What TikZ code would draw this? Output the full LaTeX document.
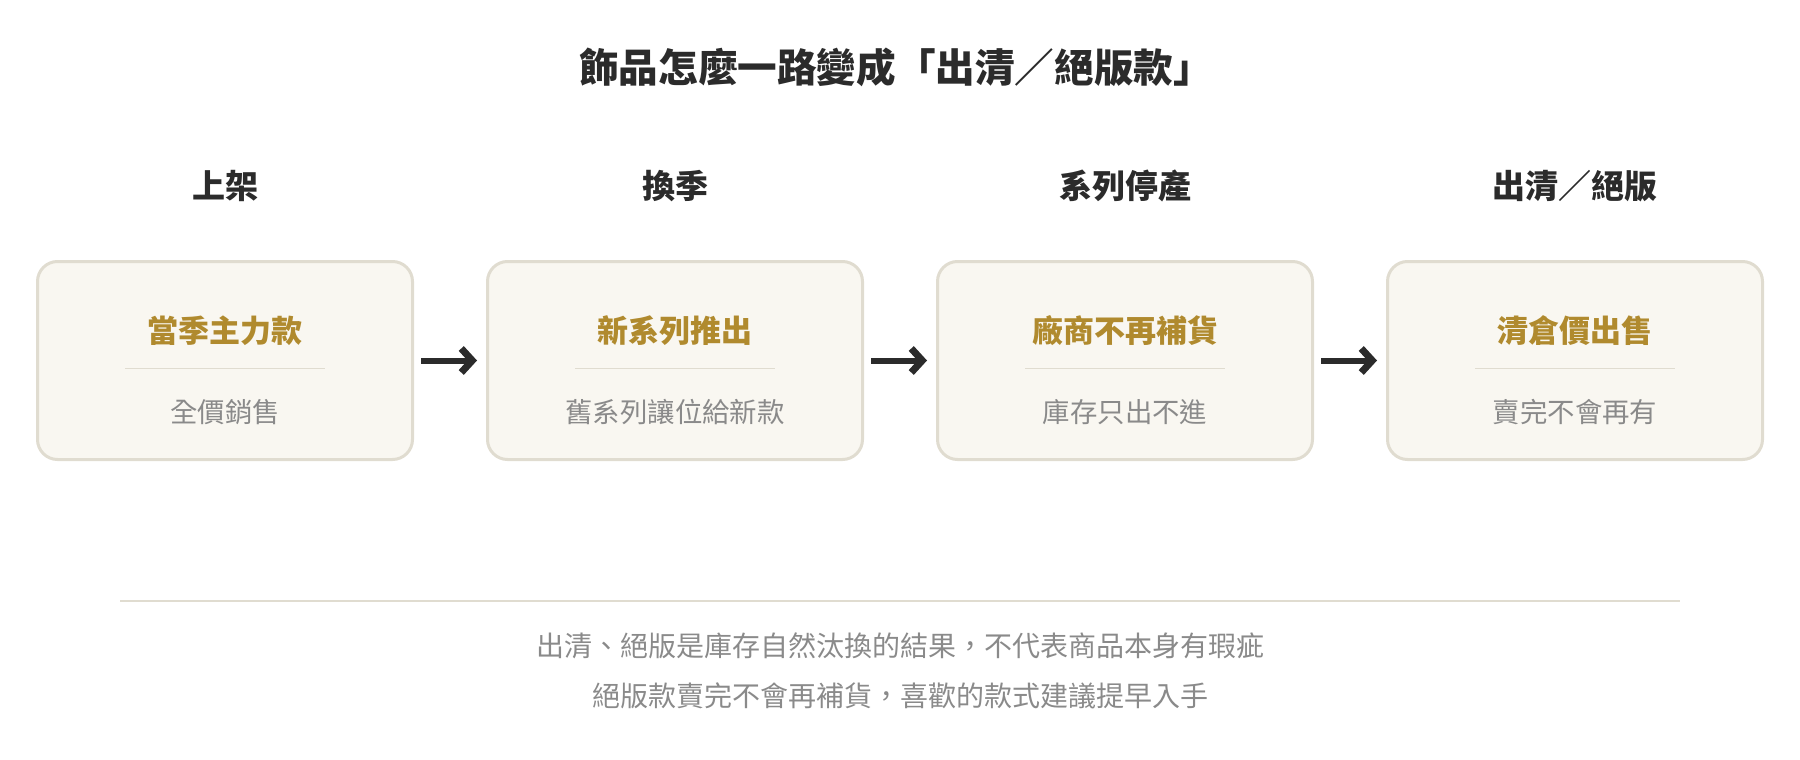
\documentclass[tikz,border=0pt]{standalone}
\usepackage{fontspec}
\setmainfont{Noto Sans CJK TC}
\usetikzlibrary{arrows.meta}
\definecolor{inkdark}{HTML}{2B2B2B}
\definecolor{boxfill}{HTML}{F9F7F1}
\definecolor{boxline}{HTML}{E0DCD0}
\definecolor{gold}{HTML}{B08A2E}
\definecolor{softgray}{HTML}{8A8A8A}
\tikzset{
    stagebox/.style={draw=boxline, fill=boxfill, line width=1.5pt, rounded corners=10pt,
        minimum width=187.5pt, minimum height=99pt},
    stagename/.style={font=\fontsize{16.5}{18}\selectfont\bfseries, text=inkdark},
    boxhead/.style={font=\fontsize{15.5}{17}\selectfont\bfseries, text=gold},
    boxnote/.style={font=\fontsize{13.7}{15}\selectfont, text=softgray},
    divider/.style={draw=boxline, line width=0.8pt},
    flow/.style={draw=inkdark, line width=3pt,
        -{Straight Barb[length=5.5pt,width=12pt,line width=3.5pt,sharp]},
        shorten <=3.5pt, shorten >=4.5pt}
}

\begin{document}
\begin{tikzpicture}[x=0.5pt, y=-0.5pt]
        \useasboundingbox (0,0) rectangle (1800,760);
        \node[font=\fontsize{19.8}{22}\selectfont\bfseries, text=inkdark] (title) at (896,67) {飾品怎麼一路變成「出清／絕版款」};

        \node[stagename] (launch) at (225,186) {上架};
        \node[stagename] (season) at (675,186) {換季};
        \node[stagename] (discont) at (1125,186) {系列停產};
        \node[stagename] (soldout) at (1575,186) {出清／絕版};

        \node[stagebox] (launchbox) at (225,360.5) {};
        \node[stagebox] (seasonbox) at (675,360.5) {};
        \node[stagebox] (discontbox) at (1125,360.5) {};
        \node[stagebox] (soldoutbox) at (1575,360.5) {};

        \node[boxhead] (launchhead) at (225,331) {當季主力款};
        \node[boxhead] (seasonhead) at (675,331) {新系列推出};
        \node[boxhead] (disconthead) at (1125,331) {廠商不再補貨};
        \node[boxhead] (soldouthead) at (1575,331) {清倉價出售};

        \draw[divider] (125,368.5) -- (325,368.5);
        \draw[divider] (575,368.5) -- (775,368.5);
        \draw[divider] (1025,368.5) -- (1225,368.5);
        \draw[divider] (1475,368.5) -- (1675,368.5);

        \node[boxnote] (launchnote) at (225,412.5) {全價銷售};
        \node[boxnote] (seasonnote) at (675,412.5) {舊系列讓位給新款};
        \node[boxnote] (discontnote) at (1125,412.5) {庫存只出不進};
        \node[boxnote] (soldoutnote) at (1575,412.5) {賣完不會再有};

        \draw[flow] (launchbox.east) -- (seasonbox.west);
        \draw[flow] (seasonbox.east) -- (discontbox.west);
        \draw[flow] (discontbox.east) -- (soldoutbox.west);

        \draw[draw=boxline, line width=1pt] (120,600.5) -- (1680,600.5);
        \node[boxnote, font=\fontsize{14}{16}\selectfont] (footone) at (900,645.5) {出清、絕版是庫存自然汰換的結果，不代表商品本身有瑕疵};
        \node[boxnote, font=\fontsize{14}{16}\selectfont] (foottwo) at (900,696) {絕版款賣完不會再補貨，喜歡的款式建議提早入手};
    \end{tikzpicture}
\end{document}
